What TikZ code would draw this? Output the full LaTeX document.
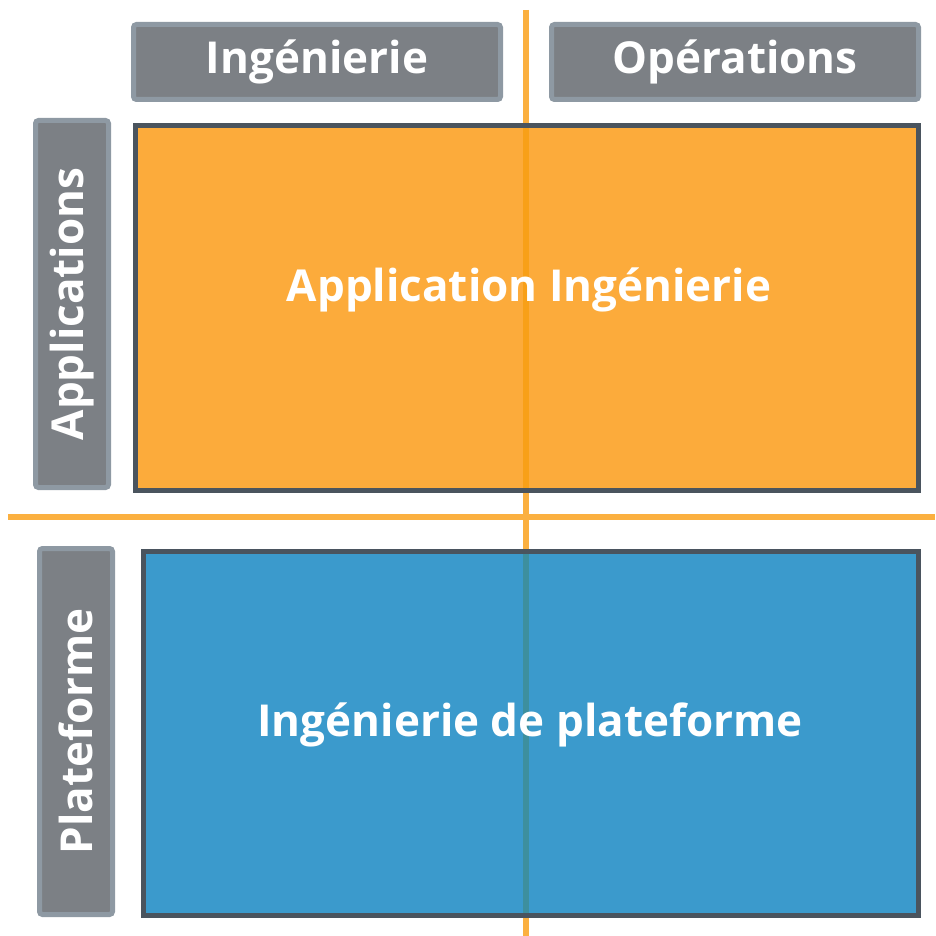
\documentclass[tikz,border=0pt]{standalone}
\usepackage{fontspec}
\setmainfont{Open Sans}
\definecolor{hdrfill}{HTML}{7C8085}
\definecolor{hdrline}{HTML}{8E99A3}
\definecolor{appfill}{HTML}{FCAB3B}
\definecolor{platfill}{HTML}{3B9ACC}
\definecolor{boxline}{HTML}{4A545E}
\definecolor{axisline}{HTML}{FBB040}
\definecolor{axisonapp}{HTML}{F8A018}
\definecolor{axisonplat}{HTML}{3D8F9E}
\tikzset{
  header/.style={draw=hdrline, fill=hdrfill, line width=5pt, rounded corners=3pt,
    outer sep=0pt, inner sep=0pt, text=white, font=\bfseries\fontsize{44}{44}\selectfont},
  area/.style={fill=#1, outer sep=0pt, inner sep=0pt},
  areaborder/.style={draw=boxline, line width=5pt},
  areatext/.style={text=white, inner sep=0pt, font=\bfseries\fontsize{44}{44}\selectfont},
  axis/.style={draw=#1, line width=6pt},
  axis/.default=axisline
}
\begin{document}
\begin{tikzpicture}[x=1pt,y=-1pt]
  \useasboundingbox (0,0) rectangle (935,936);

  % column headers
  \node[header, minimum width=367pt, minimum height=75pt] (ing) at (317,62) {Ingénierie};
  \node[header, minimum width=367pt, minimum height=75pt] (ops) at (735,62) {Opérations};

  % row headers
  \node[header, rotate=90, minimum width=367pt, minimum height=73pt] (apps) at (72,304) {Applications};
  \node[header, rotate=90, minimum width=366pt, minimum height=73pt] (plat) at (76,731.5) {Plateforme};

  % axes
  \coordinate (hleft) at (8,517);
  \coordinate (hright) at (935,517);
  \coordinate (vtop) at (526,10);
  \coordinate (vbot) at (526,936);
  \draw[axis] (hleft) -- (hright);
  \draw[axis] (vtop) -- (vbot);

  % the two areas, axis shows through a little
  \node[area=appfill, minimum width=783pt, minimum height=365pt] (appbox) at (527,308) {};
  \node[area=platfill, minimum width=775pt, minimum height=364pt] (platbox) at (531,733.5) {};
  \draw[axis=axisonapp] (vtop |- appbox.north) -- (vtop |- appbox.south);
  \draw[axis=axisonplat] (vtop |- platbox.north) -- (vtop |- platbox.south);

  % borders
  \draw[areaborder] (appbox.north west) rectangle (appbox.south east);
  \draw[areaborder] (platbox.north west) rectangle (platbox.south east);

  \node[areatext] (apptext) at (529,290) {Application Ingénierie};
  \node[areatext] (plattext) at (530,725) {Ingénierie de plateforme};
\end{tikzpicture}
\end{document}
